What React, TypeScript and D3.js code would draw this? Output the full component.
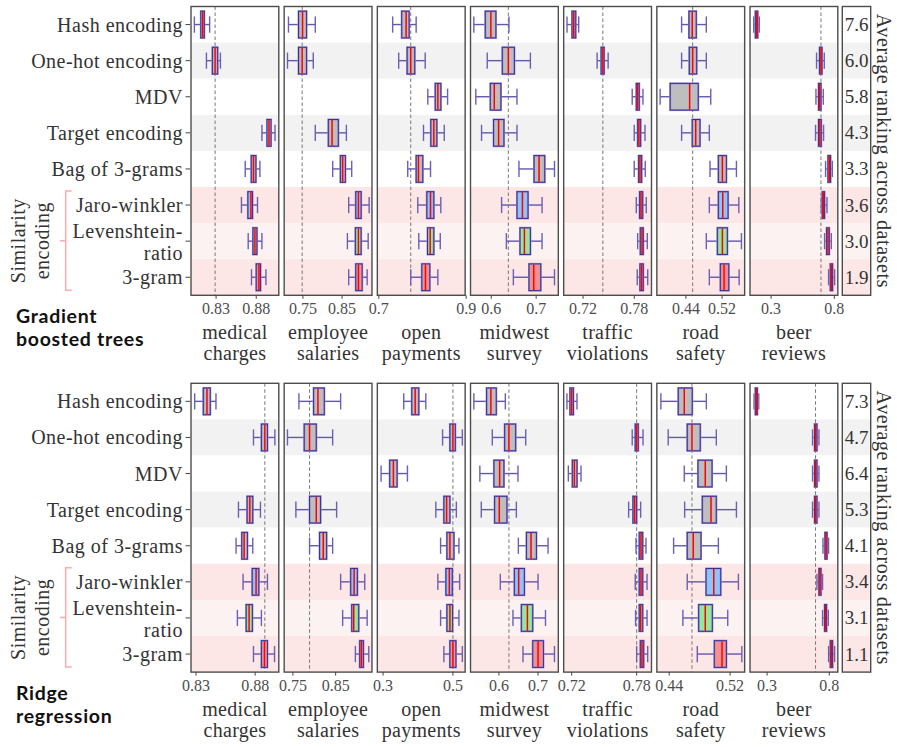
import * as d3 from "d3";

/* -----------------------------
   Data
   each entry: [whiskerLow, q1, median, q3, whiskerHigh]
----------------------------- */

type Stat = number[] | null;

const encodings = [
  "Hash encoding",
  "One-hot encoding",
  "MDV",
  "Target encoding",
  "Bag of 3-grams",
  "Jaro-winkler",
  "Levenshtein-ratio",
  "3-gram",
];

const datasets = [
  ["medical", "charges"],
  ["employee", "salaries"],
  ["open", "payments"],
  ["midwest", "survey"],
  ["traffic", "violations"],
  ["road", "safety"],
  ["beer", "reviews"],
];

// Gradient boosted trees
const gbtMedical: Stat[] = [
  [0.803, 0.811, 0.8134, 0.8154, 0.822],
  [0.818, 0.8254, 0.8288, 0.832, 0.8354],
  null,
  [0.8871, 0.8934, 0.8959, 0.8984, 0.9034],
  [0.8663, 0.8738, 0.8766, 0.8796, 0.8846],
  [0.8616, 0.8696, 0.8734, 0.8754, 0.8816],
  [0.87, 0.8759, 0.8784, 0.8809, 0.8871],
  [0.8741, 0.88, 0.8834, 0.8854, 0.8921],
];
const gbtEmployee: Stat[] = [
  [0.713, 0.7387, 0.749, 0.7592, 0.7815],
  [0.7105, 0.7387, 0.748, 0.7592, 0.7764],
  null,
  [0.7815, 0.8149, 0.8244, 0.8405, 0.861],
  [0.826, 0.8456, 0.8515, 0.8585, 0.8746],
  [0.8669, 0.8849, 0.8918, 0.8987, 0.9192],
  [0.8636, 0.884, 0.8918, 0.8987, 0.9167],
  [0.8669, 0.8849, 0.8918, 0.9013, 0.9141],
];
const gbtOpen: Stat[] = [
  [0.7317, 0.7524, 0.7625, 0.7694, 0.7855],
  [0.7455, 0.7648, 0.7731, 0.7823, 0.8062],
  [0.8122, 0.8292, 0.8352, 0.8421, 0.8575],
  [0.8023, 0.8191, 0.826, 0.8329, 0.8499],
  [0.7662, 0.7855, 0.7908, 0.8007, 0.8184],
  [0.7892, 0.8099, 0.8184, 0.826, 0.842],
  [0.7915, 0.8115, 0.8177, 0.826, 0.8407],
  [0.7731, 0.7984, 0.8069, 0.8168, 0.8352],
];
const gbtMidwest: Stat[] = [
  [0.5611, 0.5866, 0.5991, 0.6103, 0.6394],
  [0.591, 0.6246, 0.638, 0.6515, 0.6872],
  [0.5655, 0.5978, 0.6067, 0.6215, 0.6573],
  [0.5783, 0.6051, 0.6163, 0.6282, 0.6573],
  [0.6617, 0.6953, 0.7065, 0.7192, 0.7409],
  [0.623, 0.6573, 0.6694, 0.6819, 0.7132],
  [0.6336, 0.664, 0.6738, 0.6872, 0.7132],
  [0.6492, 0.6841, 0.6946, 0.7103, 0.7409],
];
const gbtTraffic: Stat[] = [
  [0.7012, 0.7071, 0.7091, 0.7114, 0.7149],
  [0.7365, 0.7412, 0.7432, 0.7447, 0.7494],
  [0.7776, 0.7824, 0.784, 0.7859, 0.7902],
  [0.78, 0.784, 0.7855, 0.7875, 0.7926],
  [0.78, 0.7851, 0.7867, 0.7887, 0.7929],
  [0.7824, 0.7863, 0.7879, 0.7899, 0.7941],
  [0.784, 0.7871, 0.7891, 0.7906, 0.7953],
  [0.7835, 0.7867, 0.7887, 0.7906, 0.7958],
];
const gbtRoad: Stat[] = [
  [0.4304, 0.4467, 0.454, 0.4629, 0.4851],
  [0.4304, 0.4474, 0.4549, 0.4638, 0.4851],
  [0.3829, 0.4051, 0.4482, 0.4673, 0.4949],
  [0.4304, 0.454, 0.4616, 0.4711, 0.4918],
  [0.4933, 0.5118, 0.5207, 0.5296, 0.5518],
  [0.4918, 0.5118, 0.5215, 0.5333, 0.5571],
  [0.4851, 0.5096, 0.5207, 0.5318, 0.5629],
  [0.4918, 0.5162, 0.5244, 0.5349, 0.5578],
];
const gbtBeer: Stat[] = [
  [0.1627, 0.1754, 0.1865, 0.1944, 0.2071],
  [0.6595, 0.6833, 0.6944, 0.7024, 0.7206],
  [0.6548, 0.6754, 0.6833, 0.6944, 0.7127],
  [0.6516, 0.6754, 0.6857, 0.6968, 0.7151],
  [0.731, 0.75, 0.7603, 0.7706, 0.7841],
  [0.6968, 0.7048, 0.7127, 0.723, 0.7421],
  [0.723, 0.7389, 0.75, 0.7603, 0.7762],
  [0.7548, 0.7683, 0.7786, 0.7865, 0.8024],
];
const gbtRanking = [7.6, 6.0, 5.8, 4.3, 3.3, 3.6, 3.0, 1.9];
const gbtDomains = [
  [0.7988, 0.9081],
  [0.702, 0.9264],
  [0.6966, 0.8977],
  [0.5537, 0.7494],
  [0.6973, 0.8002],
  [0.3756, 0.57],
  [0.1333, 0.8278],
];
const gbtTicks = [
  [0.83, 0.88],
  [0.75, 0.85],
  [0.7, 0.9],
  [0.6, 0.7],
  [0.72, 0.78],
  [0.44, 0.52],
  [0.3, 0.8],
];

// Ridge regression
const ridgeMedical: Stat[] = [
  [0.8289, 0.8362, 0.8393, 0.8421, 0.8469],
  [0.8786, 0.8853, 0.8882, 0.8904, 0.8967],
  null,
  [0.8659, 0.8732, 0.8755, 0.878, 0.8845],
  [0.8639, 0.8687, 0.8707, 0.8735, 0.878],
  [0.8698, 0.8775, 0.8808, 0.8831, 0.8904],
  [0.865, 0.8724, 0.8749, 0.8777, 0.8853],
  [0.8786, 0.8853, 0.8879, 0.8904, 0.8964],
];
const ridgeEmployee: Stat[] = [
  [0.7641, 0.7984, 0.8087, 0.8235, 0.8617],
  [0.7373, 0.7765, 0.789, 0.8047, 0.843],
  null,
  [0.757, 0.789, 0.8047, 0.8148, 0.8523],
  [0.789, 0.8124, 0.8211, 0.8289, 0.843],
  [0.8617, 0.8852, 0.8932, 0.9009, 0.9181],
  [0.8664, 0.8876, 0.8923, 0.904, 0.9237],
  [0.8962, 0.9063, 0.9103, 0.915, 0.9275],
];
const ridgeOpen: Stat[] = [
  [0.3592, 0.3822, 0.392, 0.4023, 0.4224],
  [0.4704, 0.4914, 0.5, 0.5069, 0.527],
  [0.2943, 0.319, 0.3296, 0.3402, 0.3698],
  [0.4511, 0.4741, 0.4819, 0.4914, 0.5098],
  [0.4647, 0.4828, 0.4914, 0.5029, 0.5172],
  [0.4569, 0.4799, 0.4897, 0.4983, 0.5193],
  [0.4647, 0.4828, 0.4914, 0.4991, 0.5172],
  [0.4741, 0.4914, 0.5, 0.5086, 0.527],
];
const ridgeMidwest: Stat[] = [
  [0.5359, 0.5685, 0.5795, 0.5933, 0.6164],
  [0.5831, 0.6146, 0.6256, 0.6428, 0.6685],
  [0.5513, 0.5872, 0.6018, 0.6128, 0.6487],
  [0.5549, 0.589, 0.601, 0.6205, 0.6446],
  [0.6497, 0.6703, 0.6821, 0.6959, 0.7256],
  [0.6036, 0.6395, 0.6505, 0.6651, 0.7],
  [0.6359, 0.6574, 0.6728, 0.6864, 0.719],
  [0.6615, 0.6864, 0.7, 0.7138, 0.742],
];
const ridgeTraffic: Stat[] = [
  [0.7156, 0.7184, 0.72, 0.7216, 0.7249],
  [0.7759, 0.7787, 0.78, 0.7815, 0.7859],
  [0.7169, 0.7206, 0.7225, 0.7249, 0.7286],
  [0.7726, 0.7766, 0.7782, 0.78, 0.7837],
  [0.7794, 0.7824, 0.784, 0.7856, 0.7886],
  [0.7787, 0.7824, 0.784, 0.7856, 0.7896],
  [0.779, 0.7824, 0.7837, 0.7856, 0.7896],
  [0.78, 0.7834, 0.7849, 0.7865, 0.7902],
];
const ridgeRoad: Stat[] = [
  [0.4291, 0.4519, 0.4598, 0.4703, 0.4888],
  [0.4387, 0.4637, 0.4699, 0.4808, 0.5019],
  [0.4598, 0.4778, 0.4874, 0.4963, 0.5151],
  [0.4603, 0.4835, 0.4949, 0.5019, 0.5283],
  [0.4458, 0.4637, 0.4716, 0.4818, 0.5046],
  [0.4637, 0.4884, 0.4985, 0.5077, 0.5309],
  [0.458, 0.4787, 0.4874, 0.4967, 0.5169],
  [0.4769, 0.4993, 0.5094, 0.5151, 0.5354],
];
const ridgeBeer: Stat[] = [
  [0.1952, 0.2056, 0.2137, 0.2218, 0.2331],
  [0.6653, 0.6815, 0.6895, 0.7008, 0.7169],
  [0.6653, 0.6815, 0.6895, 0.7008, 0.7169],
  [0.6653, 0.6815, 0.6895, 0.7008, 0.7169],
  [0.7492, 0.7653, 0.7734, 0.7815, 0.7944],
  [0.7008, 0.7169, 0.725, 0.7331, 0.746],
  [0.746, 0.7621, 0.7702, 0.7782, 0.7919],
  [0.7944, 0.8081, 0.8185, 0.8266, 0.8427],
];
const ridgeRanking = [7.3, 4.7, 6.4, 5.3, 4.1, 3.4, 3.1, 1.1];
const ridgeDomains = [
  [0.8258, 0.9],
  [0.7296, 0.935],
  [0.2836, 0.535],
  [0.5274, 0.7518],
  [0.7126, 0.7937],
  [0.4238, 0.5391],
  [0.1629, 0.8685],
];
const ridgeTicks = [
  [0.83, 0.88],
  [0.75, 0.85],
  [0.3, 0.5],
  [0.6, 0.7],
  [0.72, 0.78],
  [0.44, 0.52],
  [0.3, 0.8],
];

/* -----------------------------
   Layout / style
----------------------------- */

const X0 = 191;
const STEP = 93.17;
const FW = 87.8;
const ROW = 36.1;
const RANK_X = 842.3;
const RANK_W = 28.4;

const SERIF = "'Liberation Serif', 'Times New Roman', serif";
const SANS = "Lato, 'Open Sans', sans-serif";
const TEXT = "#333333";

const bandFill = [
  "#ffffff",
  "#f2f2f2",
  "#ffffff",
  "#f2f2f2",
  "#ffffff",
  "#fde6e6",
  "#fdf2f2",
  "#fde6e6",
];
const boxFill = [
  "#bebebe",
  "#bebebe",
  "#bebebe",
  "#bebebe",
  "#bebebe",
  "#8ec4f8",
  "#94e89c",
  "#fa8f8f",
];

type PanelProps = {
  top: number;
  data: Stat[][];
  domains: number[][];
  ticks: number[][];
  ranking: number[];
  title: string[];
};

function Panel({ top, data, domains, ticks, ranking, title }: PanelProps) {
  const bottom = top + ROW * encodings.length;
  const y = d3
    .scaleBand<string>()
    .domain(encodings)
    .range([top, bottom]);
  const yc = (e: string) => (y(e) ?? 0) + y.bandwidth() / 2;
  const boxH = y.bandwidth() * 0.74;
  const capH = y.bandwidth() * 0.45;

  const simTop = y("Jaro-winkler")! + 4;
  const simBot = bottom - 5;
  const simMid = (simTop + simBot) / 2;

  return (
    <g>
      {/* row labels */}
      {encodings.map((e) => {
        const cy = yc(e);
        const lines =
          e === "Levenshtein-ratio" ? ["Levenshtein-", "ratio"] : [e];
        return (
          <g key={e}>
            <line x1={185.5} x2={190} y1={cy} y2={cy} stroke="#444" strokeWidth={1} />
            {lines.map((t, k) => (
              <text
                key={t}
                x={183}
                y={lines.length === 1 ? cy + 7 : cy - 3 + k * 22}
                textAnchor="end"
                fontFamily={SERIF}
                fontSize={20}
                letterSpacing={0.5}
                fill={TEXT}
              >
                {t}
              </text>
            ))}
          </g>
        );
      })}

      {/* similarity encoding bracket */}
      <path
        d={`M71.7,${simTop}H65.7V${simBot}H71.7M65.7,${simMid}H60`}
        fill="none"
        stroke="#ffaaaa"
        strokeWidth={1.5}
      />
      <text
        transform={`translate(25,${simMid}) rotate(-90)`}
        textAnchor="middle"
        fontFamily={SERIF}
        fontSize={20}
        letterSpacing={0.5}
        fill={TEXT}
      >
        Similarity
      </text>
      <text
        transform={`translate(49,${simMid}) rotate(-90)`}
        textAnchor="middle"
        fontFamily={SERIF}
        fontSize={20}
        letterSpacing={0.5}
        fill={TEXT}
      >
        encoding
      </text>

      {/* title */}
      {title.map((t, k) => (
        <text
          key={t}
          x={16}
          y={bottom + 28 + k * 22.5}
          fontFamily={SANS}
          fontWeight={700}
          fontSize={19.5}
          letterSpacing={0.7}
          fill="#111"
        >
          {t}
        </text>
      ))}

      {/* facets */}
      {data.map((stats, i) => {
        const fx = X0 + i * STEP;
        const x = d3
          .scaleLinear()
          .domain(domains[i])
          .range([fx, fx + FW]);
        const ref = stats[1]![2];
        return (
          <g key={i}>
            {encodings.map((e, j) => (
              <rect
                key={e}
                x={fx}
                y={y(e)}
                width={FW}
                height={y.bandwidth()}
                fill={bandFill[j]}
              />
            ))}
            <line
              x1={x(ref)}
              x2={x(ref)}
              y1={top}
              y2={bottom}
              stroke="#777"
              strokeWidth={1}
              strokeDasharray="3.5,2.5"
            />
            {stats.map((s, j) => {
              if (!s) return null;
              const cy = yc(encodings[j]);
              const [lo, q1, md, q3, hi] = s;
              return (
                <g key={j}>
                  <line x1={x(lo)} x2={x(q1)} y1={cy} y2={cy} stroke="#6258ae" strokeWidth={1.4} />
                  <line x1={x(q3)} x2={x(hi)} y1={cy} y2={cy} stroke="#6258ae" strokeWidth={1.4} />
                  <line x1={x(lo)} x2={x(lo)} y1={cy - capH / 2} y2={cy + capH / 2} stroke="#6a60b4" strokeWidth={1.4} />
                  <line x1={x(hi)} x2={x(hi)} y1={cy - capH / 2} y2={cy + capH / 2} stroke="#6a60b4" strokeWidth={1.4} />
                  <rect
                    x={x(q1)}
                    y={cy - boxH / 2}
                    width={Math.max(x(q3) - x(q1), 1)}
                    height={boxH}
                    fill={boxFill[j]}
                    stroke="#9a92d0"
                    strokeWidth={2}
                  />
                  <rect
                    x={x(q1)}
                    y={cy - boxH / 2}
                    width={Math.max(x(q3) - x(q1), 1)}
                    height={boxH}
                    fill="none"
                    stroke="#3b3190"
                    strokeWidth={1}
                  />
                  <line
                    x1={x(md)}
                    x2={x(md)}
                    y1={cy - boxH / 2 + 0.5}
                    y2={cy + boxH / 2 - 0.5}
                    stroke="#ff0000"
                    strokeWidth={1.5}
                  />
                </g>
              );
            })}
            <rect
              x={fx}
              y={top}
              width={FW}
              height={bottom - top}
              fill="none"
              stroke="#4d4d4d"
              strokeWidth={1.4}
            />
            {ticks[i].map((t) => (
              <g key={t}>
                <line x1={x(t)} x2={x(t)} y1={bottom} y2={bottom + 3.5} stroke="#444" strokeWidth={1} />
                <text
                  x={x(t)}
                  y={bottom + 18.5}
                  textAnchor="middle"
                  fontFamily={SERIF}
                  fontSize={16}
                  fill="#4d4d4d"
                >
                  {String(t)}
                </text>
              </g>
            ))}
            {datasets[i].map((t, k) => (
              <text
                key={t}
                x={fx + FW / 2}
                y={bottom + 43.5 + k * 21}
                textAnchor="middle"
                fontFamily={SERIF}
                fontSize={20}
                letterSpacing={0.3}
                fill={TEXT}
              >
                {t}
              </text>
            ))}
          </g>
        );
      })}

      {/* ranking column */}
      {encodings.map((e, j) => (
        <g key={e}>
          <rect x={RANK_X} y={y(e)} width={RANK_W} height={y.bandwidth()} fill={bandFill[j]} />
          <text
            x={RANK_X + RANK_W / 2}
            y={yc(e) + 6.5}
            textAnchor="middle"
            fontFamily={SERIF}
            fontSize={19}
            fill={TEXT}
          >
            {ranking[j].toFixed(1)}
          </text>
        </g>
      ))}
      <rect
        x={RANK_X}
        y={top}
        width={RANK_W}
        height={bottom - top}
        fill="none"
        stroke="#4d4d4d"
        strokeWidth={1.4}
      />
      <text
        transform={`translate(877,${(top + bottom) / 2}) rotate(90)`}
        textAnchor="middle"
        fontFamily={SERIF}
        fontSize={20}
        letterSpacing={0.6}
        fill={TEXT}
      >
        Average ranking across datasets
      </text>
    </g>
  );
}

export default function App() {
  return (
    <svg
      width={897}
      height={747}
      style={{ position: "absolute", left: 0, top: 0, background: "#fff" }}
    >
      <Panel
        top={6.5}
        data={[gbtMedical, gbtEmployee, gbtOpen, gbtMidwest, gbtTraffic, gbtRoad, gbtBeer]}
        domains={gbtDomains}
        ticks={gbtTicks}
        ranking={gbtRanking}
        title={["Gradient", "boosted trees"]}
      />
      <Panel
        top={383.3}
        data={[ridgeMedical, ridgeEmployee, ridgeOpen, ridgeMidwest, ridgeTraffic, ridgeRoad, ridgeBeer]}
        domains={ridgeDomains}
        ticks={ridgeTicks}
        ranking={ridgeRanking}
        title={["Ridge", "regression"]}
      />
    </svg>
  );
}
